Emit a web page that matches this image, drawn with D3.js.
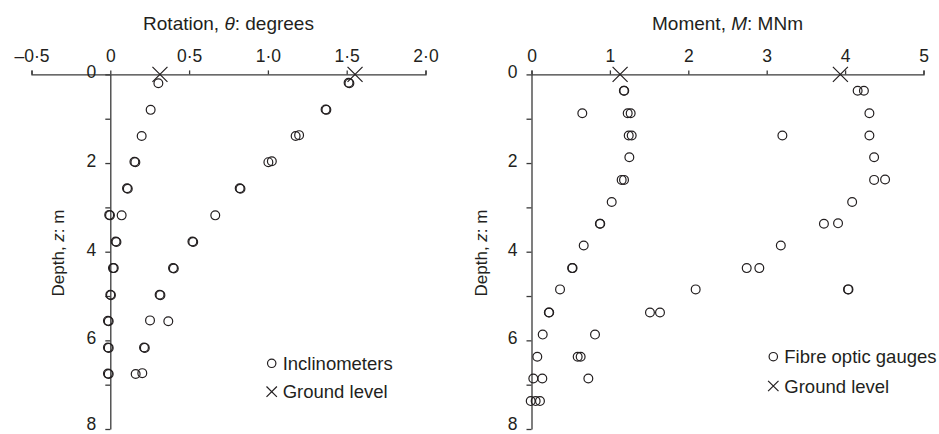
<!DOCTYPE html>
<html>
<head>
<meta charset="utf-8">
<script src="https://cdn.jsdelivr.net/npm/d3@7"></script>
<style>
  html, body { margin: 0; padding: 0; background: #fff; }
  svg { display: block; }
  text { font-family: "Liberation Sans", Arial, Helvetica, sans-serif; fill: #231f20; }
</style>
</head>
<body>
<svg id="chart" width="939" height="434"></svg>
<script>
// ---------- DATA ----------
// Left panel: rotation (degrees) vs depth (m), inclinometers
const rotTickValues = [-0.5, 0, 0.5, 1.0, 1.5, 2.0];
const rotTickLabels = ["\u20130\u00b75", "0", "0\u00b75", "1\u00b70", "1\u00b75", "2\u00b70"];

const inclLowDepth = [0.2, 0.8, 1.39, 1.97, 1.98, 2.57, 2.58, 3.17, 3.18, 3.18, 3.77, 3.78, 4.37, 4.37, 4.97, 4.98, 5.56, 5.57, 6.16, 6.17, 6.75, 6.76];
const inclLowRot   = [0.305, 0.256, 0.199, 0.153, 0.159, 0.106, 0.111, -0.007, -0.002, 0.072, 0.034, 0.039, 0.017, 0.022, 0.0, 0.004, -0.015, -0.010, -0.015, -0.010, -0.015, -0.010];

const inclHighDepth = [0.19, 0.2, 0.79, 0.8, 1.39, 1.37, 1.98, 1.96, 2.57, 2.58, 3.18, 3.77, 3.78, 4.37, 4.38, 4.97, 4.98, 5.55, 5.57, 6.16, 6.17, 6.76, 6.74];
const inclHighRot   = [1.512, 1.517, 1.366, 1.371, 1.176, 1.198, 1.003, 1.025, 0.821, 0.826, 0.666, 0.521, 0.526, 0.398, 0.403, 0.313, 0.318, 0.252, 0.368, 0.214, 0.219, 0.161, 0.203];

const groundRot = [0.315, 1.553];

// Right panel: moment (MNm) vs depth (m), fibre optic gauges
const momTickValues = [0, 1, 2, 3, 4, 5];
const momTickLabels = ["0", "1", "2", "3", "4", "5"];

const fibreLowDepth = [0.37, 0.37, 0.875, 0.875, 1.38, 1.38, 1.87, 2.38, 2.38, 2.88, 3.37, 3.37, 3.86, 4.37, 4.37, 4.85, 5.37, 5.37, 5.87, 6.37, 6.86, 6.86, 7.37, 7.37, 7.37];
const fibreLowMom   = [1.178, 1.183, 1.227, 1.265, 1.24, 1.278, 1.248, 1.15, 1.18, 1.023, 0.872, 0.877, 0.666, 0.518, 0.524, 0.364, 0.221, 0.226, 0.143, 0.074, 0.023, 0.138, -0.01, 0.053, 0.108];

const fibreHighDepth = [0.37, 0.37, 0.875, 0.875, 1.38, 1.38, 1.87, 2.38, 2.37, 2.88, 3.37, 3.36, 3.86, 4.37, 4.37, 4.85, 4.85, 4.85, 5.37, 5.37, 5.87, 6.37, 6.37, 6.86];
const fibreHighMom   = [4.16, 4.24, 0.648, 4.31, 3.20, 4.31, 4.37, 4.37, 4.51, 4.09, 3.73, 3.91, 3.18, 2.745, 2.906, 2.094, 4.037, 4.043, 1.511, 1.639, 0.81, 0.589, 0.627, 0.725];

const groundMom = [1.13, 3.94];

const depthTickValues = [0, 1, 2, 3, 4, 5, 6, 7, 8];
const depthTickLabels = ["0", "", "2", "", "4", "", "6", "", "8"];

// ---------- DRAW ----------
const svg = d3.select("#chart");
const INK = "#231f20";
const AXIS = "#3a3a3a";
const FS_TICK = 17.5;
const FS_TITLE = 19;
const FS_YLAB = 17;
const FS_LEG = 18.5;

const yScale = d3.scaleLinear().domain([0, 8]).range([74.4, 429]);

function panel(cfg) {
  const g = svg.append("g");
  const x = cfg.x;

  // top axis
  const ax = d3.axisTop(x)
    .tickValues(cfg.tickValues)
    .tickFormat((d, i) => cfg.tickLabels[i])
    .tickSize(4).tickSizeOuter(4).tickPadding(8);
  const gx = g.append("g").attr("transform", `translate(0,${yScale(0)})`).call(ax);
  gx.selectAll("text").style("font-size", FS_TICK + "px").attr("fill", INK);

  // left axis
  const ay = d3.axisLeft(yScale)
    .tickValues(depthTickValues)
    .tickFormat((d, i) => depthTickLabels[i])
    .tickSize(5).tickSizeOuter(0).tickPadding(9);
  const gy = g.append("g").attr("transform", `translate(${x(0)},0)`).call(ay);
  gy.selectAll("text").style("font-size", FS_TICK + "px").attr("fill", INK)
    .attr("dy", d => d === 8 ? "0.04em" : "0.2em");

  [gx, gy].forEach(a => {
    a.select(".domain").attr("stroke", AXIS).attr("stroke-width", 1.3);
    a.selectAll(".tick line").attr("stroke", AXIS).attr("stroke-width", 1.3);
  });

  // title
  const [r0, r1] = x.range();
  const t = g.append("text")
    .attr("x", (r0 + r1) / 2).attr("y", 30)
    .attr("text-anchor", "middle").style("font-size", FS_TITLE + "px");
  t.append("tspan").text(cfg.titleA);
  t.append("tspan").attr("font-style", "italic").text(cfg.titleSym);
  t.append("tspan").text(cfg.titleB);

  // y label
  const yl = g.append("text")
    .attr("transform", `translate(${cfg.ylabelX},253) rotate(-90)`)
    .attr("text-anchor", "middle").style("font-size", FS_YLAB + "px");
  yl.append("tspan").text("Depth, ");
  yl.append("tspan").attr("font-style", "italic").text("z");
  yl.append("tspan").text(": m");

  // points
  cfg.series.forEach(s => {
    g.append("g").selectAll("circle")
      .data(s.depth.map((d, i) => ({ z: d, v: s.vals[i] })))
      .join("circle")
      .attr("cx", d => x(d.v)).attr("cy", d => yScale(d.z))
      .attr("r", 4.4)
      .attr("fill", "none").attr("stroke", INK).attr("stroke-width", 1.2);
  });

  // ground level crosses
  const cross = (cx, cy, h) => `M${cx - h},${cy - h}L${cx + h},${cy + h}M${cx - h},${cy + h}L${cx + h},${cy - h}`;
  g.append("g").selectAll("path")
    .data(cfg.ground)
    .join("path")
    .attr("d", d => cross(x(d), yScale(0), 7.5))
    .attr("stroke", INK).attr("stroke-width", 1.2).attr("fill", "none");

  // legend
  const lg = g.append("g");
  lg.append("circle").attr("cx", cfg.legX).attr("cy", cfg.legY).attr("r", 4.2)
    .attr("fill", "none").attr("stroke", INK).attr("stroke-width", 1.2);
  lg.append("text").attr("x", cfg.legX + 11).attr("y", cfg.legY)
    .attr("dominant-baseline", "central").style("font-size", FS_LEG + "px").text(cfg.legText);
  lg.append("path").attr("d", cross(cfg.legX, cfg.legY + cfg.legGap, 5.2))
    .attr("stroke", INK).attr("stroke-width", 1.2).attr("fill", "none");
  lg.append("text").attr("x", cfg.legX + 11).attr("y", cfg.legY + cfg.legGap)
    .attr("dominant-baseline", "central").style("font-size", FS_LEG + "px").text("Ground level");
}

panel({
  x: d3.scaleLinear().domain([-0.5, 2.0]).range([31.5, 425.5]),
  tickValues: rotTickValues, tickLabels: rotTickLabels,
  titleA: "Rotation, ", titleSym: "\u03b8", titleB: ": degrees",
  ylabelX: 64,
  series: [{ depth: inclLowDepth, vals: inclLowRot }, { depth: inclHighDepth, vals: inclHighRot }],
  ground: groundRot,
  legX: 271.7, legY: 363.3, legGap: 28.4, legText: "Inclinometers"
});

panel({
  x: d3.scaleLinear().domain([0, 5]).range([531.5, 923.5]),
  tickValues: momTickValues, tickLabels: momTickLabels,
  titleA: "Moment, ", titleSym: "M", titleB: ": MNm",
  ylabelX: 487,
  series: [{ depth: fibreLowDepth, vals: fibreLowMom }, { depth: fibreHighDepth, vals: fibreHighMom }],
  ground: groundMom,
  legX: 773.3, legY: 356.7, legGap: 29.3, legText: "Fibre optic gauges"
});
</script>
</body>
</html>
